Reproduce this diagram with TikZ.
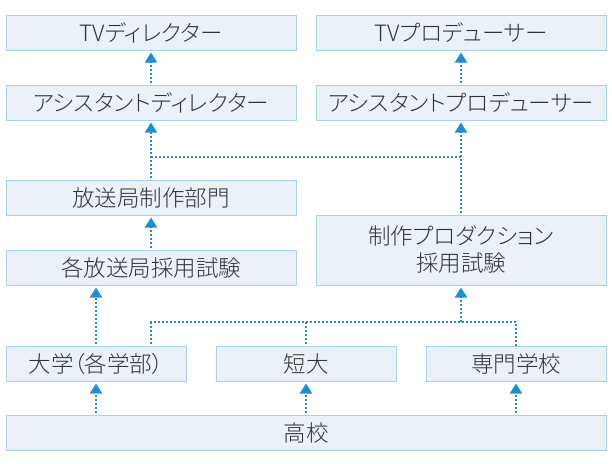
\documentclass[tikz,border=0pt]{standalone}
\usepackage{fontspec}
\setmainfont{Noto Sans CJK JP}[UprightFont=* Light,RawFeature=+palt]
\usetikzlibrary{positioning,arrows.meta,calc}
\definecolor{boxfill}{HTML}{EBF1F8}
\definecolor{boxline}{HTML}{A9D1EC}
\definecolor{linkblue}{HTML}{1A8FD6}
\definecolor{txt}{HTML}{333333}

\begin{document}
\begin{tikzpicture}[x=1pt,y=-1pt,>={Triangle[width=12pt,length=10pt]},
   every node/.style={font=\fontsize{22.5}{27}\selectfont,text=txt},
   box/.style={draw=boxline,fill=boxfill,line width=1pt,inner sep=0pt,
     minimum width=290pt,minimum height=35pt,align=center},
   small/.style={box,minimum width=180pt},
   link/.style={draw=linkblue,line width=2pt,dash pattern=on 2pt off 2pt},
   up/.style={link,->,shorten >=2pt,shorten <=2pt}]
  \useasboundingbox (0,0) rectangle (612,463);
  \node[box] (tvdir) at (151,32.5) {TVディレクター};
  \node[box] (tvpro) at (461,32.5) {TVプロデューサー};
  \node[box] (asdir) at (151,102.5) {アシスタントディレクター};
  \node[box] (aspro) at (461,102.5) {アシスタントプロデューサー};
  \node[box] (bumon) at (151,197.5) {放送局制作部門};
  \node[box] (kakusha) at (151,267.5) {各放送局採用試験};
  \node[box,minimum height=70pt] (prod) at (461,250) {制作プロダクション\\採用試験};
  \node[small] (daigaku) at (96,363.5) {大学（各学部）};
  \node[small] (tandai) at (306,363.5) {短大};
  \node[small] (senmon) at (516,363.5) {専門学校};
  \node[box,minimum width=600pt] (koukou) at (306,432.5) {高校};
  \coordinate (jup) at (151,157);
  \coordinate (jlow) at (151,322);
  \draw[up] (asdir) -- (tvdir);
  \draw[up] (aspro) -- (tvpro);
  \draw[up] (bumon) -- (asdir);
  \draw[up] (prod.north) -- (aspro.south);
  \draw[link] (jup) -- (jup -| prod.north);
  \draw[up] (kakusha) -- (bumon);
  \draw[up] (daigaku.north) -- (daigaku.north |- kakusha.south);
  \draw[link,shorten <=2pt] (daigaku.north -| jlow) -- (jlow) -- (jlow -| senmon.north)
    -- ([yshift=-2pt]senmon.north);
  \draw[link,shorten <=2pt] (tandai.north) -- (jlow -| tandai.north);
  \draw[up,shorten <=0pt] (jlow -| prod.south) -- (prod.south);
  \draw[up] (koukou.north -| daigaku.south) -- (daigaku.south);
  \draw[up] (koukou.north -| tandai.south) -- (tandai.south);
  \draw[up] (koukou.north -| senmon.south) -- (senmon.south);
\end{tikzpicture}
\end{document}
